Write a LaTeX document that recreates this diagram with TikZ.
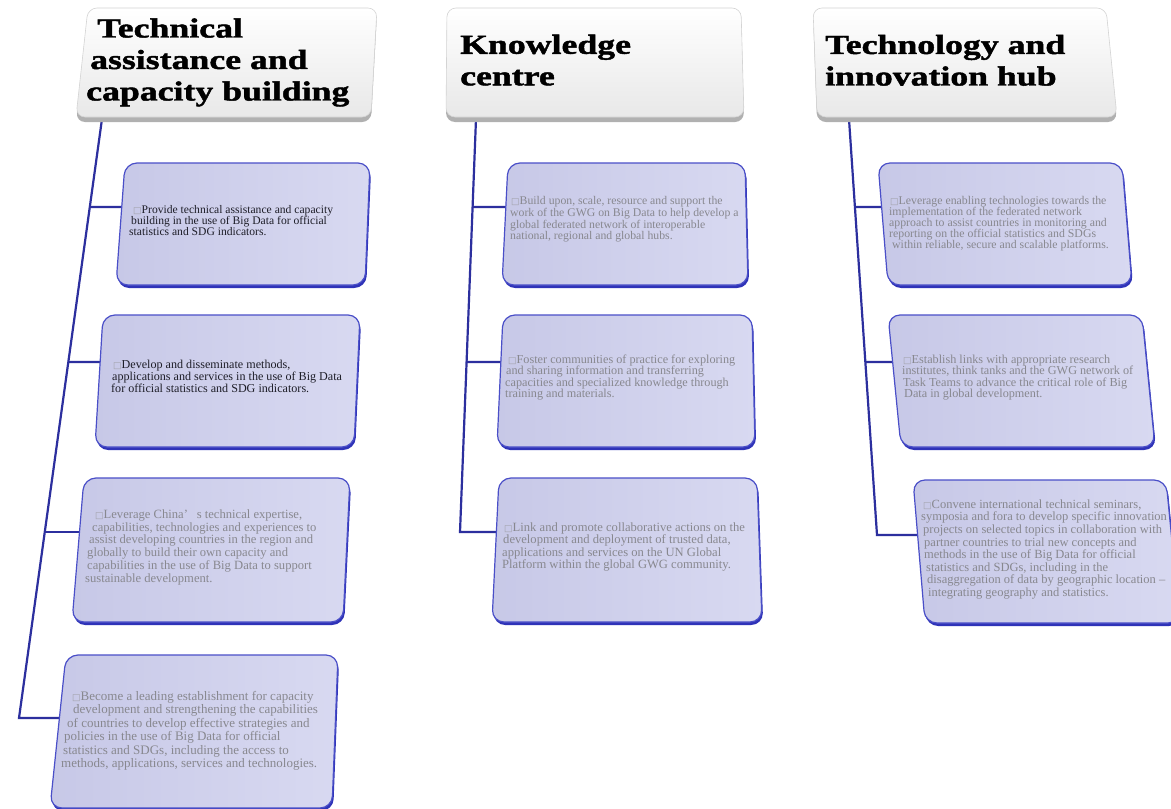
\documentclass[tikz,border=0pt]{standalone}
\usepackage{fontspec}
\setmainfont{Liberation Serif}
\newfontfamily\headfont[FakeStretch=1.3,FakeBold=1.6]{Liberation Serif Bold}
\newfontfamily\symfont{DejaVu Sans}
\usetikzlibrary{calc}
\definecolor{lineblue}{HTML}{2C2F9E}
\definecolor{edgeblue}{HTML}{2F33B8}
\definecolor{borderblue}{HTML}{4A4FC8}
\definecolor{boxL}{HTML}{C7C8E7}
\definecolor{boxR}{HTML}{D8D9F1}
\definecolor{headgray}{HTML}{B0B0B0}
\definecolor{headlow}{HTML}{E8E8E8}
\definecolor{headedge}{HTML}{D4D4D4}
\definecolor{darktext}{HTML}{1E1E28}
\definecolor{graytext}{HTML}{88888F}
\definecolor{sqgray}{HTML}{A0A0A8}
\newcommand\sq{{\symfont\fontsize{9}{9}\selectfont\textcolor{sqgray}{□}}}
\newcommand\slcorners[7]{%
  \coordinate (#1-tl) at (#2,#6);
  \coordinate (#1-tr) at (#3,#6);
  \coordinate (#1-br) at (#4,#7);
  \coordinate (#1-bl) at (#5,#7);}
\newcommand\slbody[4]{%
  \path[#3] ([shift={#2}]#1-tl) -- ([shift={#2}]#1-tr) -- ([shift={#2}]#1-br) -- ([shift={#2}]#1-bl) -- cycle;
  \path[#4] (#1-tl) -- (#1-tr) -- (#1-br) -- (#1-bl) -- cycle;}
\tikzset{
  boxshade/.style={rounded corners=12pt, fill=edgeblue},
  boxmain/.style={rounded corners=12pt, left color=boxL, right color=boxR, draw=borderblue, line width=1.2pt},
  headshade/.style={rounded corners=9pt, fill=headgray},
  headmain/.style={rounded corners=9pt, top color=white, bottom color=headlow, draw=headedge, line width=0.6pt},
  conn/.style={draw=lineblue, line width=2.2pt},
  htext/.style={anchor=north west, inner sep=0pt, align=left, text=black,
    font=\headfont\fontsize{27.5}{31.5}\selectfont},
  btext/.style={anchor=north west, inner sep=0pt, align=left},
}
\begin{document}
\begin{tikzpicture}[x=1pt,y=-1pt]
\useasboundingbox (0,0) rectangle (1171,809);
\clip (0,0) rectangle (1171,809);
\fill[white] (0,0) rectangle (1171,809);

% corner coordinates of headers and boxes
\slcorners{h1}{88}{377}{371}{76}{8}{117}
\slcorners{h2}{447}{741}{744}{446}{8}{117}
\slcorners{h3}{813}{1106}{1117}{817}{8}{117}
\slcorners{b11}{125}{370}{365}{116}{163}{285}
\slcorners{b12}{103}{360}{354}{95}{315}{447}
\slcorners{b13}{84}{350}{343}{72}{478}{622}
\slcorners{b14}{66}{338}{332}{50}{655}{808}
\slcorners{b21}{508}{745}{748}{502}{163}{285}
\slcorners{b22}{503}{752}{755}{497}{315}{447}
\slcorners{b23}{499}{757}{762}{492}{478}{622}
\slcorners{b31}{878}{1122}{1132}{888}{163}{285}
\slcorners{b32}{888}{1142}{1155}{901}{315}{447}
\slcorners{b33}{913}{1166}{1180}{925}{480}{623}

% connection points
\coordinate (h1-out) at (102,119);
\coordinate (h2-out) at (476,119);
\coordinate (h3-out) at (849,119);
\coordinate (t1-k1) at (90.2,207);
\coordinate (t1-k2) at (68.6,362);
\coordinate (t1-k3) at (44.9,532);
\coordinate (t1-end) at (19,718);
\coordinate (t2-k1) at (472.7,207);
\coordinate (t2-k2) at (466.6,362);
\coordinate (t2-end) at (460,532);
\coordinate (t3-k1) at (854.8,207);
\coordinate (t3-k2) at (865.3,362);
\coordinate (t3-end) at (877,535);
\coordinate (b11-in) at ($(b11-tl)!0.3607!(b11-bl)$);
\coordinate (b12-in) at ($(b12-tl)!0.356!(b12-bl)$);
\coordinate (b13-in) at ($(b13-tl)!0.375!(b13-bl)$);
\coordinate (b14-in) at ($(b14-tl)!0.4118!(b14-bl)$);
\coordinate (b21-in) at ($(b21-tl)!0.3607!(b21-bl)$);
\coordinate (b22-in) at ($(b22-tl)!0.356!(b22-bl)$);
\coordinate (b23-in) at ($(b23-tl)!0.375!(b23-bl)$);
\coordinate (b31-in) at ($(b31-tl)!0.3607!(b31-bl)$);
\coordinate (b32-in) at ($(b32-tl)!0.356!(b32-bl)$);
\coordinate (b33-in) at ($(b33-tl)!0.3846!(b33-bl)$);

% connectors
\draw[conn] (h1-out) -- (t1-end) -- (b14-in);
\draw[conn] (t1-k1) -- (b11-in);
\draw[conn] (t1-k2) -- (b12-in);
\draw[conn] (t1-k3) -- (b13-in);
\draw[conn] (h2-out) -- (t2-end) -- (b23-in);
\draw[conn] (t2-k1) -- (b21-in);
\draw[conn] (t2-k2) -- (b22-in);
\draw[conn] (h3-out) -- (t3-end) -- (b33-in);
\draw[conn] (t3-k1) -- (b31-in);
\draw[conn] (t3-k2) -- (b32-in);

% shapes
\slbody{h1}{(0,5)}{headshade}{headmain}
\slbody{h2}{(0,5)}{headshade}{headmain}
\slbody{h3}{(0,5)}{headshade}{headmain}
\foreach \b in {b11,b12,b13,b14,b21,b22,b23,b31,b32,b33}{
  \slbody{\b}{(1.2,3)}{boxshade}{boxmain}
}

% header texts
\node[htext] (h1t) at (86,37-18.8) {\hspace*{11pt}Technical\\\hspace*{4pt}assistance and\\capacity building};
\node[htext] (h2t) at (460,53.3-18.8) {Knowledge\\centre};
\node[htext] (h3t) at (825,53.5-18.8) {Technology and\\innovation hub};

% box texts
\node[btext, text=darktext, font=\fontsize{11.6}{11}\selectfont] (t11) at (129,213.5-7.9)
 {\hspace*{4pt}\sq Provide technical assistance and capacity\\\hspace*{2pt}building in the use of Big Data for official\\statistics and SDG indicators.};
\node[btext, text=darktext, font=\fontsize{12.1}{12}\selectfont] (t12) at (111,368-8.3)
 {\hspace*{2pt}\sq Develop and disseminate methods,\\\hspace*{1pt}applications and services in the use of Big Data\\for official statistics and SDG indicators.};
\node[btext, text=graytext, font=\fontsize{12.6}{12.8}\selectfont] (t13) at (85,518-8.6)
 {\hspace*{10pt}\sq Leverage China’\hspace{0.7em}s technical expertise,\\\hspace*{7pt}capabilities, technologies and experiences to\\\hspace*{4pt}assist developing countries in the region and\\\hspace*{2pt}globally to build their own capacity and\\\hspace*{2pt}capabilities in the use of Big Data to support\\sustainable development.};
\node[btext, text=graytext, font=\fontsize{13}{13.4}\selectfont] (t14) at (61,700-8.9)
 {\hspace*{11pt}\sq Become a leading establishment for capacity\\\hspace*{12pt}development and strengthening the capabilities\\\hspace*{6pt}of countries to develop effective strategies and\\\hspace*{3pt}policies in the use of Big Data for official\\\hspace*{2pt}statistics and SDGs, including the access to\\methods, applications, services and technologies.};
\node[btext, text=graytext, font=\fontsize{11.75}{11.7}\selectfont] (t21) at (510,204.5-8)
 {\hspace*{1pt}\sq Build upon, scale, resource and support the\\work of the GWG on Big Data to help develop a\\global federated network of interoperable\\national, regional and global hubs.};
\node[btext, text=graytext, font=\fontsize{12.2}{11.4}\selectfont] (t22) at (505,363-8.3)
 {\hspace*{3pt}\sq Foster communities of practice for exploring\\\hspace*{1pt}and sharing information and transferring\\capacities and specialized knowledge through\\training and materials.};
\node[btext, text=graytext, font=\fontsize{12.6}{12.4}\selectfont] (t23) at (502,531-8.6)
 {\hspace*{2pt}\sq Link and promote collaborative actions on the\\\hspace*{1pt}development and deployment of trusted data,\\applications and services on the UN Global\\Platform within the global GWG community.};
\node[btext, text=graytext, font=\fontsize{11.8}{11}\selectfont] (t31) at (889,204-8)
 {\hspace*{1pt}\sq Leverage enabling technologies towards the\\implementation of the federated network\\approach to assist countries in monitoring and\\reporting on the official statistics and SDGs\\\hspace*{3pt}within reliable, secure and scalable platforms.};
\node[btext, text=graytext, font=\fontsize{12.2}{11.4}\selectfont] (t32) at (902,363-8.3)
 {\hspace*{1pt}\sq Establish links with appropriate research\\institutes, think tanks and the GWG network of\\\hspace*{1pt}Task Teams to advance the critical role of Big\\\hspace*{2pt}Data in global development.};
\node[btext, text=graytext, font=\fontsize{12.5}{12.6}\selectfont] (t33) at (921,508-8.5)
 {\hspace*{2pt}\sq Convene international technical seminars,\\symposia and fora to develop specific innovation\\\hspace*{2pt}projects on selected topics in collaboration with\\\hspace*{3pt}partner countries to trial new concepts and\\\hspace*{3pt}methods in the use of Big Data for official\\\hspace*{5pt}statistics and SDGs, including in the\\\hspace*{6pt}disaggregation of data by geographic location –\\\hspace*{7pt}integrating geography and statistics.};
\end{tikzpicture}
\end{document}
